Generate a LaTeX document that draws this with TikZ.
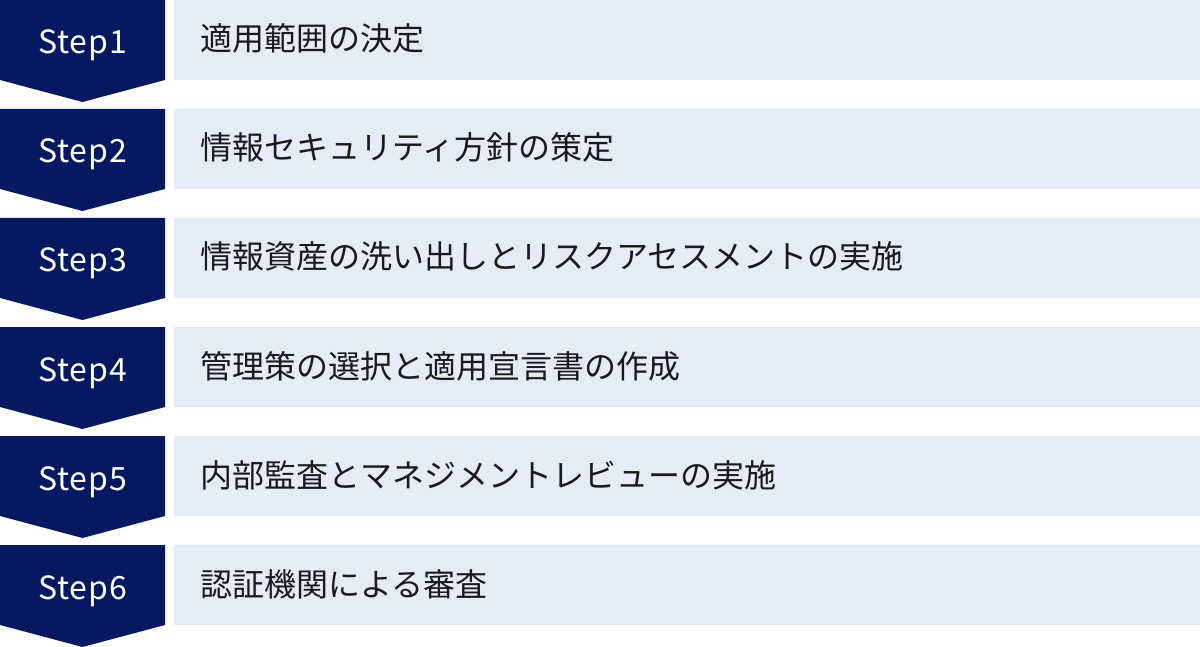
\documentclass[tikz,border=0pt]{standalone}
\usepackage{fontspec}
\setmainfont{Noto Sans}
\newfontfamily\jpfont{Noto Sans CJK JP}
\newfontfamily\stepfont[LetterSpace=3]{Noto Sans CJK JP}
\definecolor{navy}{RGB}{5,24,97}
\definecolor{pale}{RGB}{230,235,248}
\definecolor{ink}{RGB}{26,26,26}
\begin{document}
\begin{tikzpicture}[x=1pt,y=-1pt,
  chevron/.style={fill=navy,draw=none},
  steplabel/.style={text=white,anchor=base,inner sep=0pt,font=\stepfont\fontsize{32}{38}\selectfont},
  bar/.style={fill=pale,draw=none,anchor=north west,minimum width=1026pt,minimum height=80pt,inner sep=0pt},
  bartext/.style={text=ink,anchor=base west,inner sep=0pt,font=\jpfont\fontsize{32}{38}\selectfont}]
\useasboundingbox (0,0) rectangle (1200,647);
\foreach \i/\t in {1/適用範囲の決定,2/情報セキュリティ方針の策定,3/情報資産の洗い出しとリスクアセスメントの実施,4/管理策の選択と適用宣言書の作成,5/内部監査とマネジメントレビューの実施,6/認証機関による審査}{
  \pgfmathsetmacro\yy{(\i-1)*109}
  \fill[chevron] (0,\yy) -- (165,\yy) -- (165,\yy+80) -- (82.5,\yy+102) -- (0,\yy+80) -- cycle;
  \node[steplabel] (s\i) at (82.5,\yy+54) {Step\i};
  \node[bar] (b\i) at (174,\yy) {};
  \node[bartext] (t\i) at (200,\yy+51) {\t};
}
\end{tikzpicture}
\end{document}
